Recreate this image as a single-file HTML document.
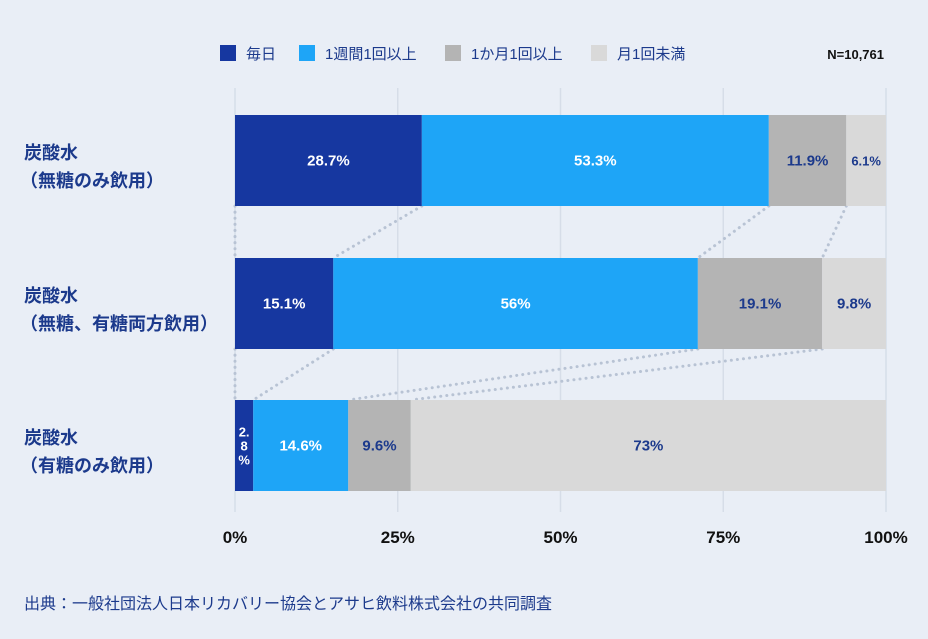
<!DOCTYPE html>
<html><head><meta charset="utf-8"><style>
body{margin:0;background:#e9eef6;}
svg{display:block;font-family:"Liberation Sans","Noto Sans CJK JP",sans-serif;}
</style></head><body>
<svg id="c" width="928" height="639" xmlns="http://www.w3.org/2000/svg">
<rect width="928" height="639" fill="#e9eef6"/>
<g id="grid"></g>
<g id="conn"></g>
<g id="bars"></g>
<g id="axis"></g>
<g id="cats"></g>
<g id="legend"></g>
<text x="884" y="59" text-anchor="end" font-size="13" font-weight="bold" fill="#111">N=10,761</text>
<text x="24" y="609" font-size="16" fill="#1c3a8c">出典：一般社団法人日本リカバリー協会とアサヒ飲料株式会社の共同調査</text>
</svg>
<script>
const categories1 = ["炭酸水","炭酸水","炭酸水"];
const categories2 = ["（無糖のみ飲用）","（無糖、有糖両方飲用）","（有糖のみ飲用）"];
const seriesNames = ["毎日","1週間1回以上","1か月1回以上","月1回未満"];
const daily = [28.7,15.1,2.8];
const weekly = [53.3,56,14.6];
const monthly = [11.9,19.1,9.6];
const less = [6.1,9.8,73];
const valueLabels = [["28.7%","53.3%","11.9%","6.1%"],["15.1%","56%","19.1%","9.8%"],["2.8%","14.6%","9.6%","73%"]];
const ticks = [0,25,50,75,100];
const tickLabels = ["0%","25%","50%","75%","100%"];

const NS="http://www.w3.org/2000/svg";
const X0=235,X1=886;
const x=v=>X0+(X1-X0)*v/100;
const rowTop=[115,258,400], BH=91;
const colors=["#1637a0","#1ea5f7","#b4b4b4","#d9d9d9"];
const txtCol=["#fff","#fff","#1c3a8c","#1c3a8c"];
function mk(tag,attrs,parent){const e=document.createElementNS(NS,tag);for(const k in attrs)e.setAttribute(k,attrs[k]);parent.appendChild(e);return e;}
const grid=document.getElementById('grid'),axis=document.getElementById('axis');
ticks.forEach((t,i)=>{
 const l=mk('line',{x1:x(t),x2:x(t),y1:88,y2:512,stroke:'#d6dde8','stroke-width':1.5},grid);
 
 
 const tx=mk('text',{x:x(t),y:543,'text-anchor':'middle','font-size':17,'font-weight':'bold',fill:'#111'},axis);
 tx.textContent=tickLabels[i];
 
 
});
const series=[daily,weekly,monthly,less];
const cum=rowTop.map((_,r)=>{let c=[0];series.forEach(s=>c.push(c[c.length-1]+s[r]));return c;});
const conn=document.getElementById('conn');
for(let r=0;r<2;r++){cum[r].slice(0,4).forEach((v,k)=>{
 const l=mk('line',{x1:x(v),y1:rowTop[r]+BH,x2:x(cum[r+1][k]),y2:rowTop[r+1],stroke:'#b8c3d4','stroke-width':3,'stroke-dasharray':'0.1 6','stroke-linecap':'round'},conn);
 
 
});}
const bars=document.getElementById('bars');
rowTop.forEach((y,r)=>{series.forEach((s,k)=>{
 const a=x(cum[r][k]),b=x(cum[r][k+1]);
 const rc=mk('rect',{x:a,y:y,width:b-a,height:BH,fill:colors[k]},bars);
 
 
 const cx=(a+b)/2,cy=y+BH/2;
 const lab=valueLabels[r][k];
 if(b-a<30){
  const t=mk('text',{x:cx,y:cy-9,'text-anchor':'middle','font-size':13,'font-weight':'bold',fill:txtCol[k]},bars);
  ['2.','8','%'].forEach((p,i)=>{const ts=mk('tspan',{x:cx,dy:i?14:0},t);ts.textContent=p;});
  
  
 } else {
  const t=mk('text',{x:cx,y:cy+5,'text-anchor':'middle','font-size':b-a<50?13:15,'font-weight':'bold',fill:txtCol[k]},bars);
  t.textContent=lab;
  
  
 }
});});
const cats=document.getElementById('cats');
rowTop.forEach((y,r)=>{
 const t1=mk('text',{x:24,y:y+44,'font-size':18,'font-weight':'bold',fill:'#1c3a8c'},cats);t1.textContent=categories1[r];
 
 
 const t2=mk('text',{x:20,y:y+72,'font-size':18,'font-weight':'bold',fill:'#1c3a8c'},cats);t2.textContent=categories2[r];
 
 
});
const lg=document.getElementById('legend');
const lx=[220,299,445,591];
seriesNames.forEach((n,k)=>{
 const g=mk('g',{},lg);
 
 
 mk('rect',{x:lx[k],y:45,width:16,height:16,fill:colors[k]},g);
 const t=mk('text',{x:lx[k]+26,y:59,'font-size':15,fill:'#1c3a8c'},g);t.textContent=n;
});
</script>
</body></html>
